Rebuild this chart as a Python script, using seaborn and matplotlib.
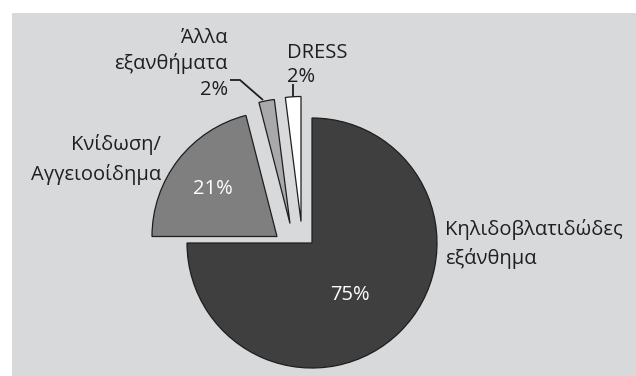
import matplotlib
matplotlib.use("Agg")
import matplotlib.pyplot as plt
from matplotlib.patches import Rectangle
import seaborn as sns

# Shares of each reaction type (%)
categories = ["Κηλιδοβλατιδώδες\nεξάνθημα", "Κνίδωση/\nΑγγειοοίδημα", "Άλλα\nεξανθήματα", "DRESS"]
shares = [75, 21, 2, 2]

sns.set_theme(style="white")
plt.rcParams["font.family"] = ["Open Sans", "DejaVu Sans"]

W, H = 636, 376
fig = plt.figure(figsize=(W / 100, H / 100), dpi=100)
ax = fig.add_axes([0, 0, 1, 1])

# light grey panel behind the chart
ax.add_patch(Rectangle((12, 13), W - 12, H - 13, facecolor="#d8d9db", edgecolor="none", zorder=0))

slice_colors = sns.color_palette(["#3f3f3f", "#7f7f7f", "#a9a9ab", "#ffffff"])
center = (312, 243)
radius = 125

# y axis is inverted below, so counter-clockwise in data is clockwise on screen
wedges, _ = ax.pie(
    shares, colors=slice_colors, startangle=-90, counterclock=True,
    radius=radius, center=center, frame=True,
    wedgeprops=dict(edgecolor="#1e1e1e", linewidth=0.9),
)
ax.set_xlim(0, W)
ax.set_ylim(H, 0)          # pixel-like canvas, y grows downward
ax.set_aspect("equal")
ax.axis("off")

# pull the smaller slices away from the main one
slice_shift = [(0, 0), (-35, -6.5), (-22, -19.5), (-11, -21.5)]
for w, (dx, dy) in zip(wedges, slice_shift):
    w.set_center((center[0] + dx, center[1] + dy))
    w.set_zorder(2)

fs = 14.5
txt = "#1f1f1f"

# category labels: (x, first baseline, alignment, line step, percent outside?)
label_layout = [
    (445, 235, "left", 29, False),
    (161, 150, "right", 30, False),
    (228, 43, "right", 26, True),
    (287, 58, "left", 24.5, True),
]
for name, val, (x, y0, ha, step, pct_out) in zip(categories, shares, label_layout):
    lines = name.split("\n")
    if pct_out:
        lines.append(f"{val}%")
    for i, line in enumerate(lines):
        ax.text(x, y0 + i * step, line, ha=ha, va="baseline", fontsize=fs, color=txt, zorder=4)

# percentages printed inside the two large slices
inside_pos = [(350, 295), (213, 189)]
for val, (x, y) in zip(shares[:2], inside_pos):
    ax.text(x, y, f"{val}%", ha="center", va="center", fontsize=fs, color="white", zorder=4)

# leader lines for the two thin slices
ax.plot([230, 240, 263], [80, 80, 100], color="#1e1e1e", lw=1.3, zorder=3, solid_capstyle="butt")
ax.plot([293, 293], [84, 97], color="#1e1e1e", lw=1.3, zorder=3, solid_capstyle="butt")

fig.savefig("out.png", dpi=100, facecolor="white")
